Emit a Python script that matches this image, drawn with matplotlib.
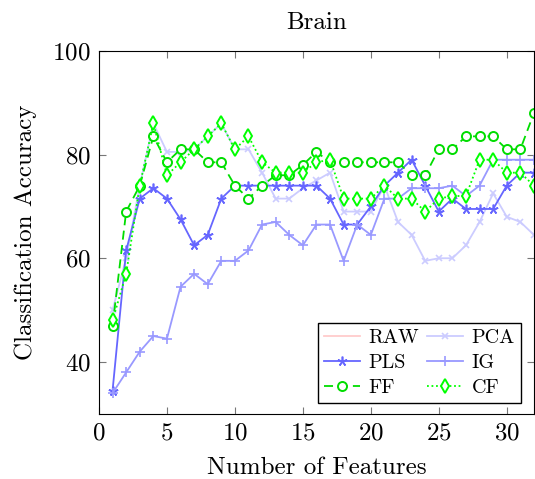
import matplotlib
matplotlib.use("Agg")
import matplotlib.pyplot as plt
import numpy as np

plt.rcParams["font.family"] = "cmr10"
plt.rcParams["mathtext.fontset"] = "cm"
plt.rcParams["axes.formatter.use_mathtext"] = True

# number of features 1..32
n_features = list(range(1, 33))

raw = []
pca = [50, 60, 74, 86, 80.5, 80.5, 81, 83.5, 86, 81, 81, 76.5, 71.5, 71.5, 73.5, 75,
       76.5, 69, 69, 69, 74, 67, 64.5, 59.5, 60, 60, 62.5, 67, 72.5, 68, 67, 64.5]
pls = [34.5, 61.5, 71.5, 73.5, 71.5, 67.5, 62.5, 64.5, 71.5, 74, 74, 74, 74, 74, 74, 74,
       71.5, 66.5, 66.5, 70, 74, 76.5, 79, 74, 69, 71.5, 69.5, 69.5, 69.5, 74, 76.5, 76.5]
ig = [34, 38, 42, 45, 44.5, 54.5, 57, 55, 59.5, 59.5, 61.5, 66.5, 67, 64.5, 62.5, 66.5,
      66.5, 59.5, 66.5, 64.5, 71.5, 71.5, 73.5, 73.5, 73.5, 74, 72, 74, 79, 79, 79, 79]
ff = [47, 69, 74, 83.5, 78.5, 81, 81, 78.5, 78.5, 74, 71.5, 74, 76, 76, 78, 80.5,
      78.5, 78.5, 78.5, 78.5, 78.5, 78.5, 76, 76, 81, 81, 83.5, 83.5, 83.5, 81, 81, 88]
cf = [48, 57, 74, 86, 76, 78.5, 81, 83.5, 86, 81, 83.5, 78.5, 76.5, 76.5, 76.5, 78.5,
      79, 71.5, 71.5, 71.5, 74, 71.5, 71.5, 69, 71.5, 72, 72, 79, 79, 76.5, 76.5, 74]

fig = plt.figure(figsize=(5.35, 4.79), dpi=100)
ax = fig.add_axes([0.185, 0.136, 0.813, 0.758])

lw = 1.3
ax.plot(n_features[:len(raw)], raw, color="#ffcccc", lw=lw, label="RAW")
ax.plot(n_features, pca, color="#ccccff", lw=lw, marker="x", ms=5, mew=1.2, label="PCA")
ax.plot(n_features, pls, color="#6666ff", lw=lw, marker=(5, 2, 0), ms=7, mew=1.2, label="PLS")
ax.plot(n_features, ig, color="#9999ff", lw=lw, marker="+", ms=7, mew=1.2, label="IG")
ax.plot(n_features, ff, color="#00dd00", lw=lw, ls=(0, (5, 3)), marker="o", ms=6.5,
        mfc="white", mew=1.4, label="FF")
ax.plot(n_features, cf, color="#00ff00", lw=lw, ls=(0, (1, 1.5)), marker="d", ms=7,
        mfc="white", mew=1.4, label="CF")

ax.set_xlim(0, 32)
ax.set_ylim(30, 100)
ax.set_xticks([0, 5, 10, 15, 20, 25, 30])
ax.set_yticks([40, 60, 80, 100])
ax.tick_params(direction="in", top=True, right=True, labelsize=18, length=5,
               color="#777777", pad=6)
ax.set_title("Brain", fontsize=18, pad=16)
ax.set_xlabel("Number of Features", fontsize=18, labelpad=9)
ax.set_ylabel("Classification Accuracy", fontsize=18, labelpad=11)

h, l = ax.get_legend_handles_labels()
order = [0, 2, 4, 1, 3, 5]
leg = ax.legend([h[i] for i in order], [l[i] for i in order], ncol=2, loc="lower right",
                fontsize=14.5, fancybox=False, edgecolor="black", framealpha=1,
                handlelength=1.75, columnspacing=0.4, handletextpad=0.45,
                borderpad=0.3, labelspacing=0.33, borderaxespad=0,
                bbox_to_anchor=(0.97, 0.03))
leg.get_frame().set_linewidth(1.0)

fig.savefig("out.png", dpi=100)
